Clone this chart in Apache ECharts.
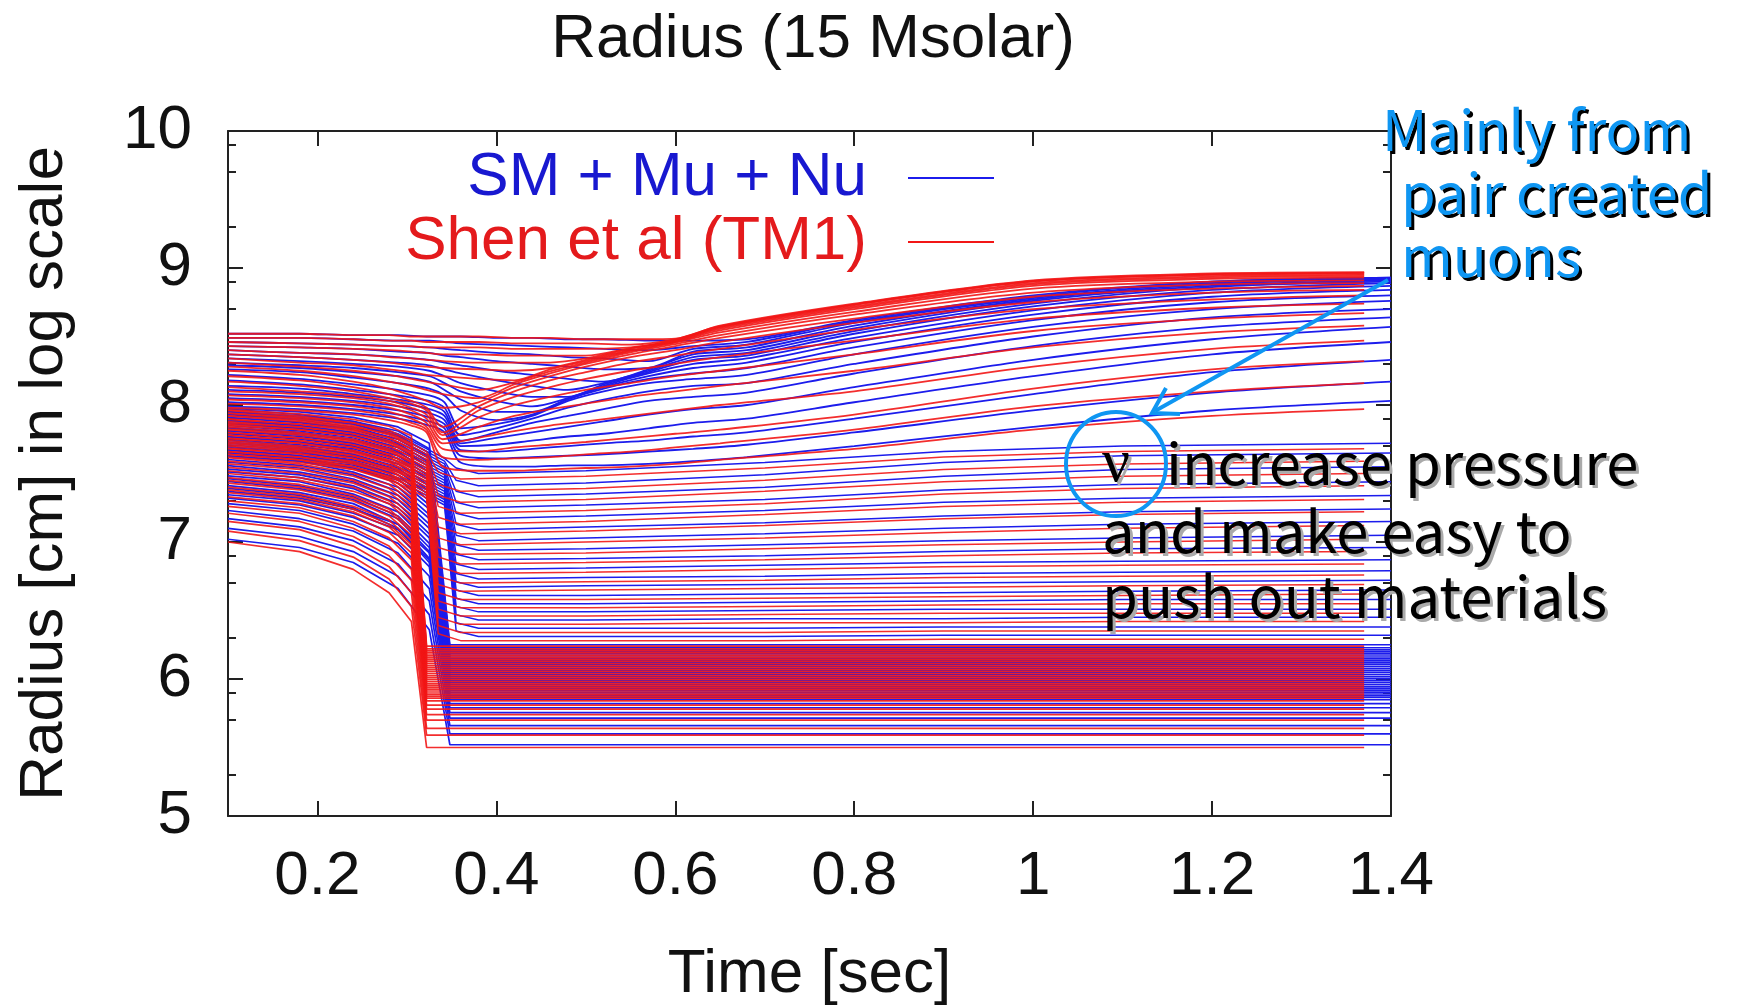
<!DOCTYPE html>
<html>
<head>
<meta charset="utf-8">
<title>Radius (15 Msolar)</title>
<script src="https://cdn.jsdelivr.net/npm/echarts@6/dist/echarts.min.js"></script>
<style>
  html, body { margin: 0; padding: 0; background: #fff; }
  #chart { width: 1741px; height: 1007px; }
</style>
</head>
<body>
<div id="chart"></div>
<script>
// axis ticks
const xTicks = [0.2, 0.4, 0.6, 0.8, 1, 1.2, 1.4];
const yMinorTicks = [5.3, 5.7, 5.9, 6.3, 6.7, 6.9, 7.3, 7.7, 7.9, 8.3, 8.7, 8.9, 9.3, 9.7, 9.9];

// ---- Shen et al (TM1): log10 radius of mass shells ----
// inner shells that fall into the core
const shenCoreT = [0.10, 0.18, 0.24, 0.28, 0.305, 0.322, 1.37];
const shenCore = [
  [7.00, 6.93, 6.80, 6.63, 6.42, 5.50, 5.50],
  [7.08, 7.01, 6.89, 6.73, 6.53, 5.59, 5.59],
  [7.15, 7.09, 6.97, 6.82, 6.63, 5.64, 5.64],
  [7.21, 7.15, 7.04, 6.90, 6.72, 5.70, 5.70],
  [7.26, 7.21, 7.10, 6.97, 6.80, 5.74, 5.74],
  [7.30, 7.25, 7.15, 7.03, 6.87, 5.78, 5.78],
  [7.33, 7.28, 7.19, 7.07, 6.92, 5.81, 5.81],
  [7.36, 7.31, 7.22, 7.11, 6.96, 5.84, 5.84],
  [7.38, 7.33, 7.24, 7.13, 6.98, 5.86, 5.86],
  [7.40, 7.35, 7.26, 7.16, 7.01, 5.875, 5.875],
  [7.43, 7.38, 7.30, 7.19, 7.05, 5.89, 5.89],
  [7.45, 7.40, 7.32, 7.22, 7.08, 5.905, 5.905],
  [7.47, 7.42, 7.34, 7.24, 7.10, 5.92, 5.92],
  [7.50, 7.45, 7.37, 7.28, 7.14, 5.935, 5.935],
  [7.52, 7.47, 7.40, 7.30, 7.17, 5.95, 5.95],
  [7.545, 7.50, 7.43, 7.33, 7.20, 5.965, 5.965],
  [7.57, 7.53, 7.45, 7.36, 7.24, 5.98, 5.98],
  [7.59, 7.55, 7.48, 7.39, 7.27, 5.995, 5.995],
  [7.615, 7.57, 7.50, 7.42, 7.30, 6.01, 6.01],
  [7.64, 7.60, 7.53, 7.45, 7.33, 6.025, 6.025],
  [7.66, 7.62, 7.55, 7.47, 7.36, 6.04, 6.04],
  [7.685, 7.645, 7.58, 7.50, 7.39, 6.055, 6.055],
  [7.71, 7.67, 7.61, 7.53, 7.43, 6.07, 6.07],
  [7.73, 7.69, 7.63, 7.56, 7.46, 6.085, 6.085],
  [7.755, 7.72, 7.66, 7.59, 7.49, 6.10, 6.10],
  [7.78, 7.74, 7.69, 7.62, 7.52, 6.115, 6.115],
  [7.80, 7.76, 7.71, 7.64, 7.55, 6.13, 6.13],
  [7.825, 7.79, 7.74, 7.67, 7.585, 6.145, 6.145],
  [7.85, 7.82, 7.77, 7.70, 7.62, 6.16, 6.16],
  [7.87, 7.84, 7.79, 7.73, 7.65, 6.175, 6.175],
  [7.895, 7.86, 7.82, 7.76, 7.68, 6.19, 6.19],
  [7.92, 7.89, 7.84, 7.79, 7.71, 6.205, 6.205],
  [7.94, 7.91, 7.87, 7.815, 7.74, 6.22, 6.22],
  [7.965, 7.935, 7.895, 7.845, 7.775, 6.24, 6.24]
];
// shells that stall after the bounce
const shenStalledT = [0.10, 0.18, 0.24, 0.28, 0.305, 0.322, 0.335, 0.36, 0.50, 0.70, 0.90, 1.10, 1.37];
const shenStalled = [
  [7.62, 7.58, 7.53, 7.46, 7.38, 7.32, 6.33, 6.28, 6.28, 6.28, 6.29, 6.29, 6.29],
  [7.64, 7.60, 7.55, 7.48, 7.40, 7.34, 6.39, 6.34, 6.34, 6.34, 6.35, 6.35, 6.35],
  [7.66, 7.62, 7.57, 7.50, 7.42, 7.36, 6.45, 6.40, 6.40, 6.41, 6.41, 6.42, 6.42],
  [7.68, 7.64, 7.59, 7.52, 7.44, 7.38, 6.51, 6.46, 6.46, 6.47, 6.48, 6.48, 6.48],
  [7.70, 7.66, 7.61, 7.54, 7.46, 7.40, 6.57, 6.52, 6.52, 6.53, 6.54, 6.55, 6.55],
  [7.72, 7.68, 7.63, 7.56, 7.48, 7.42, 6.63, 6.58, 6.58, 6.59, 6.60, 6.61, 6.62],
  [7.74, 7.70, 7.65, 7.58, 7.50, 7.44, 6.69, 6.64, 6.65, 6.66, 6.67, 6.68, 6.69],
  [7.76, 7.72, 7.67, 7.60, 7.52, 7.46, 6.75, 6.70, 6.71, 6.72, 6.74, 6.75, 6.76],
  [7.78, 7.74, 7.69, 7.62, 7.54, 7.48, 6.82, 6.77, 6.78, 6.80, 6.82, 6.83, 6.84],
  [7.80, 7.76, 7.71, 7.64, 7.56, 7.50, 6.89, 6.84, 6.85, 6.87, 6.90, 6.92, 6.93],
  [7.82, 7.78, 7.73, 7.66, 7.58, 7.52, 6.96, 6.91, 6.92, 6.95, 6.98, 7.00, 7.02],
  [7.84, 7.80, 7.75, 7.68, 7.60, 7.54, 7.03, 6.98, 7.00, 7.03, 7.07, 7.10, 7.12],
  [7.86, 7.82, 7.77, 7.70, 7.62, 7.56, 7.11, 7.06, 7.08, 7.12, 7.17, 7.20, 7.22],
  [7.88, 7.84, 7.79, 7.72, 7.64, 7.58, 7.18, 7.13, 7.15, 7.20, 7.26, 7.29, 7.31],
  [7.90, 7.86, 7.81, 7.74, 7.66, 7.60, 7.26, 7.21, 7.23, 7.28, 7.35, 7.39, 7.41],
  [7.92, 7.88, 7.83, 7.76, 7.68, 7.62, 7.34, 7.29, 7.31, 7.37, 7.44, 7.48, 7.50],
  [7.94, 7.90, 7.85, 7.78, 7.70, 7.64, 7.42, 7.37, 7.39, 7.45, 7.53, 7.57, 7.59],
  [7.96, 7.92, 7.87, 7.80, 7.72, 7.66, 7.51, 7.46, 7.48, 7.54, 7.62, 7.66, 7.68]
];
// outer shells pushed out by the shock
const shenRiseT = [0.10, 0.18, 0.24, 0.28, 0.305, 0.322, 0.34, 0.38, 0.42, 0.46, 0.50, 0.55, 0.60, 0.65, 0.80, 1.00, 1.20, 1.37];
const shenRise = [
  [7.98, 7.96, 7.93, 7.89, 7.85, 7.80, 7.55, 7.52, 7.52, 7.53, 7.54, 7.55, 7.57, 7.60, 7.68, 7.82, 7.92, 7.97],
  [8.01, 7.99, 7.96, 7.92, 7.87, 7.82, 7.62, 7.60, 7.61, 7.62, 7.64, 7.66, 7.69, 7.72, 7.82, 7.99, 8.10, 8.16],
  [8.04, 8.02, 7.99, 7.95, 7.90, 7.84, 7.68, 7.66, 7.69, 7.71, 7.73, 7.76, 7.79, 7.82, 7.93, 8.12, 8.26, 8.32],
  [8.07, 8.05, 8.02, 7.98, 7.93, 7.87, 7.72, 7.76, 7.81, 7.85, 7.88, 7.92, 7.96, 8.00, 8.10, 8.28, 8.41, 8.47],
  [8.10, 8.08, 8.05, 8.01, 7.96, 7.90, 7.75, 7.84, 7.92, 7.97, 8.01, 8.06, 8.10, 8.14, 8.25, 8.42, 8.53, 8.58],
  [8.13, 8.10, 8.07, 8.03, 7.98, 7.93, 7.78, 7.91, 8.00, 8.06, 8.11, 8.16, 8.21, 8.25, 8.37, 8.54, 8.63, 8.67],
  [8.17, 8.14, 8.10, 8.05, 8.01, 7.96, 7.80, 7.96, 8.06, 8.13, 8.19, 8.25, 8.30, 8.35, 8.47, 8.63, 8.71, 8.74],
  [8.21, 8.18, 8.13, 8.08, 8.03, 7.98, 7.84, 7.99, 8.10, 8.18, 8.24, 8.31, 8.36, 8.41, 8.55, 8.70, 8.77, 8.80],
  [8.25, 8.22, 8.17, 8.12, 8.07, 8.03, 7.98, 8.02, 8.13, 8.21, 8.28, 8.35, 8.40, 8.46, 8.60, 8.75, 8.82, 8.84],
  [8.28, 8.25, 8.21, 8.17, 8.14, 8.11, 8.08, 8.05, 8.15, 8.23, 8.30, 8.37, 8.43, 8.49, 8.63, 8.79, 8.85, 8.87],
  [8.31, 8.28, 8.25, 8.22, 8.19, 8.17, 8.15, 8.11, 8.165, 8.245, 8.31, 8.385, 8.445, 8.51, 8.66, 8.82, 8.88, 8.89],
  [8.34, 8.31, 8.29, 8.26, 8.24, 8.22, 8.21, 8.19, 8.18, 8.26, 8.32, 8.395, 8.455, 8.53, 8.68, 8.85, 8.90, 8.91],
  [8.37, 8.35, 8.33, 8.31, 8.29, 8.28, 8.27, 8.26, 8.25, 8.27, 8.33, 8.40, 8.46, 8.545, 8.70, 8.87, 8.92, 8.93],
  [8.40, 8.38, 8.37, 8.35, 8.34, 8.33, 8.32, 8.31, 8.31, 8.31, 8.34, 8.41, 8.465, 8.555, 8.71, 8.88, 8.93, 8.94],
  [8.43, 8.42, 8.41, 8.40, 8.39, 8.38, 8.37, 8.37, 8.36, 8.36, 8.36, 8.415, 8.47, 8.565, 8.72, 8.89, 8.94, 8.95],
  [8.46, 8.45, 8.44, 8.43, 8.43, 8.42, 8.42, 8.42, 8.41, 8.41, 8.41, 8.42, 8.475, 8.57, 8.73, 8.90, 8.95, 8.96],
  [8.49, 8.49, 8.48, 8.47, 8.47, 8.46, 8.46, 8.46, 8.45, 8.45, 8.45, 8.44, 8.48, 8.575, 8.735, 8.905, 8.955, 8.965],
  [8.52, 8.52, 8.51, 8.51, 8.50, 8.50, 8.50, 8.50, 8.49, 8.49, 8.48, 8.48, 8.485, 8.58, 8.74, 8.91, 8.96, 8.97]
];

// ---- SM + Mu + Nu ----
const smCoreT = [0.10, 0.18, 0.24, 0.29, 0.325, 0.348, 1.40];
const smCore = [
  [7.02, 6.96, 6.85, 6.66, 6.36, 5.52, 5.52],
  [7.10, 7.04, 6.93, 6.75, 6.47, 5.60, 5.60],
  [7.17, 7.11, 7.01, 6.84, 6.57, 5.66, 5.66],
  [7.23, 7.17, 7.08, 6.92, 6.66, 5.715, 5.715],
  [7.28, 7.23, 7.13, 6.99, 6.75, 5.755, 5.755],
  [7.32, 7.27, 7.18, 7.05, 6.82, 5.79, 5.79],
  [7.345, 7.30, 7.21, 7.09, 6.87, 5.82, 5.82],
  [7.37, 7.32, 7.24, 7.13, 6.92, 5.85, 5.85],
  [7.392, 7.34, 7.25, 7.10, 6.85, 5.868, 5.868],
  [7.412, 7.36, 7.28, 7.13, 6.88, 5.883, 5.883],
  [7.442, 7.39, 7.31, 7.17, 6.93, 5.898, 5.898],
  [7.462, 7.41, 7.33, 7.19, 6.96, 5.913, 5.913],
  [7.482, 7.44, 7.35, 7.22, 6.99, 5.928, 5.928],
  [7.512, 7.47, 7.39, 7.25, 7.03, 5.943, 5.943],
  [7.532, 7.49, 7.41, 7.28, 7.06, 5.958, 5.958],
  [7.557, 7.51, 7.44, 7.31, 7.10, 5.973, 5.973],
  [7.582, 7.54, 7.46, 7.34, 7.13, 5.988, 5.988],
  [7.602, 7.56, 7.49, 7.37, 7.17, 6.003, 6.003],
  [7.627, 7.59, 7.51, 7.40, 7.20, 6.018, 6.018],
  [7.652, 7.61, 7.54, 7.43, 7.24, 6.033, 6.033],
  [7.672, 7.63, 7.57, 7.46, 7.27, 6.048, 6.048],
  [7.697, 7.66, 7.59, 7.49, 7.30, 6.063, 6.063],
  [7.722, 7.68, 7.62, 7.52, 7.34, 6.078, 6.078],
  [7.742, 7.70, 7.64, 7.54, 7.37, 6.093, 6.093],
  [7.767, 7.73, 7.67, 7.57, 7.41, 6.108, 6.108],
  [7.792, 7.76, 7.70, 7.61, 7.45, 6.123, 6.123],
  [7.812, 7.78, 7.72, 7.63, 7.48, 6.138, 6.138],
  [7.837, 7.80, 7.75, 7.66, 7.51, 6.153, 6.153],
  [7.862, 7.83, 7.78, 7.69, 7.55, 6.168, 6.168],
  [7.882, 7.85, 7.80, 7.72, 7.58, 6.183, 6.183],
  [7.907, 7.875, 7.83, 7.75, 7.62, 6.198, 6.198],
  [7.932, 7.90, 7.86, 7.78, 7.65, 6.213, 6.213],
  [7.952, 7.92, 7.88, 7.81, 7.68, 6.228, 6.228],
  [7.977, 7.95, 7.91, 7.84, 7.72, 6.25, 6.25]
];
const smStalledT = [0.10, 0.18, 0.24, 0.29, 0.325, 0.342, 0.355, 0.38, 0.50, 0.70, 0.90, 1.10, 1.40];
const smStalled = [
  [7.63, 7.59, 7.54, 7.45, 7.33, 7.27, 6.35, 6.31, 6.31, 6.31, 6.32, 6.32, 6.32],
  [7.65, 7.61, 7.56, 7.47, 7.35, 7.29, 6.41, 6.37, 6.37, 6.37, 6.38, 6.38, 6.38],
  [7.67, 7.63, 7.58, 7.49, 7.37, 7.31, 6.47, 6.43, 6.43, 6.44, 6.44, 6.45, 6.45],
  [7.69, 7.65, 7.60, 7.51, 7.39, 7.33, 6.53, 6.49, 6.49, 6.50, 6.51, 6.51, 6.51],
  [7.71, 7.67, 7.62, 7.53, 7.41, 7.35, 6.59, 6.55, 6.55, 6.56, 6.57, 6.58, 6.58],
  [7.73, 7.69, 7.64, 7.55, 7.43, 7.37, 6.65, 6.61, 6.61, 6.62, 6.63, 6.64, 6.65],
  [7.75, 7.71, 7.66, 7.57, 7.45, 7.39, 6.71, 6.67, 6.68, 6.69, 6.70, 6.71, 6.72],
  [7.77, 7.73, 7.68, 7.59, 7.47, 7.41, 6.77, 6.73, 6.74, 6.75, 6.77, 6.78, 6.79],
  [7.79, 7.75, 7.70, 7.61, 7.49, 7.43, 6.84, 6.80, 6.81, 6.83, 6.85, 6.86, 6.87],
  [7.81, 7.77, 7.72, 7.63, 7.51, 7.45, 6.91, 6.87, 6.88, 6.90, 6.93, 6.95, 6.96],
  [7.83, 7.79, 7.74, 7.65, 7.53, 7.47, 6.98, 6.94, 6.95, 6.98, 7.01, 7.03, 7.05],
  [7.85, 7.81, 7.76, 7.67, 7.55, 7.49, 7.05, 7.01, 7.03, 7.06, 7.10, 7.13, 7.15],
  [7.87, 7.83, 7.78, 7.69, 7.57, 7.51, 7.13, 7.09, 7.11, 7.14, 7.19, 7.22, 7.24],
  [7.89, 7.85, 7.80, 7.71, 7.59, 7.53, 7.21, 7.17, 7.19, 7.23, 7.29, 7.32, 7.34],
  [7.91, 7.87, 7.82, 7.73, 7.61, 7.55, 7.29, 7.25, 7.27, 7.31, 7.38, 7.42, 7.44],
  [7.93, 7.89, 7.84, 7.75, 7.63, 7.57, 7.37, 7.33, 7.35, 7.40, 7.48, 7.53, 7.55],
  [7.95, 7.91, 7.86, 7.77, 7.65, 7.59, 7.45, 7.41, 7.43, 7.49, 7.58, 7.63, 7.65],
  [7.97, 7.93, 7.88, 7.79, 7.67, 7.61, 7.54, 7.50, 7.52, 7.58, 7.66, 7.70, 7.72]
];
const smRiseT = [0.10, 0.18, 0.24, 0.29, 0.325, 0.342, 0.36, 0.40, 0.44, 0.48, 0.52, 0.57, 0.62, 0.68, 0.80, 1.00, 1.20, 1.40];
const smRise = [
  [7.99, 7.97, 7.94, 7.90, 7.85, 7.80, 7.58, 7.55, 7.55, 7.56, 7.56, 7.57, 7.59, 7.62, 7.70, 7.84, 7.96, 8.03],
  [8.02, 8.00, 7.97, 7.93, 7.88, 7.83, 7.63, 7.61, 7.62, 7.63, 7.64, 7.66, 7.68, 7.71, 7.80, 7.96, 8.09, 8.17],
  [8.05, 8.03, 8.00, 7.96, 7.91, 7.86, 7.67, 7.66, 7.68, 7.70, 7.72, 7.74, 7.77, 7.80, 7.90, 8.08, 8.24, 8.33],
  [8.08, 8.06, 8.03, 7.99, 7.94, 7.89, 7.70, 7.71, 7.74, 7.77, 7.79, 7.83, 7.87, 7.90, 8.02, 8.21, 8.37, 8.46],
  [8.11, 8.09, 8.06, 8.02, 7.97, 7.92, 7.72, 7.76, 7.80, 7.84, 7.88, 7.93, 7.97, 8.00, 8.13, 8.33, 8.48, 8.57],
  [8.14, 8.12, 8.08, 8.04, 8.00, 7.95, 7.74, 7.80, 7.87, 7.92, 7.97, 8.03, 8.06, 8.09, 8.23, 8.43, 8.57, 8.64],
  [8.18, 8.15, 8.11, 8.07, 8.03, 7.98, 7.78, 7.83, 7.90, 7.98, 8.04, 8.10, 8.14, 8.16, 8.30, 8.50, 8.64, 8.70],
  [8.22, 8.19, 8.15, 8.11, 8.07, 8.02, 7.83, 7.86, 7.92, 8.03, 8.10, 8.16, 8.19, 8.22, 8.37, 8.57, 8.70, 8.76],
  [8.26, 8.24, 8.20, 8.16, 8.12, 8.07, 7.96, 7.89, 7.93, 8.04, 8.12, 8.19, 8.23, 8.27, 8.42, 8.62, 8.75, 8.80],
  [8.29, 8.27, 8.24, 8.21, 8.17, 8.11, 8.04, 7.95, 7.95, 8.045, 8.13, 8.21, 8.27, 8.31, 8.46, 8.66, 8.79, 8.84],
  [8.31, 8.29, 8.27, 8.24, 8.21, 8.16, 8.10, 8.03, 7.99, 8.05, 8.14, 8.23, 8.30, 8.34, 8.49, 8.69, 8.82, 8.87],
  [8.34, 8.32, 8.30, 8.28, 8.25, 8.21, 8.16, 8.10, 8.06, 8.06, 8.15, 8.24, 8.33, 8.36, 8.52, 8.72, 8.84, 8.89],
  [8.37, 8.35, 8.33, 8.31, 8.29, 8.26, 8.23, 8.18, 8.14, 8.11, 8.16, 8.25, 8.35, 8.38, 8.54, 8.74, 8.86, 8.90],
  [8.40, 8.38, 8.37, 8.35, 8.33, 8.31, 8.29, 8.25, 8.22, 8.19, 8.17, 8.26, 8.37, 8.40, 8.56, 8.76, 8.87, 8.91],
  [8.43, 8.42, 8.41, 8.39, 8.38, 8.36, 8.35, 8.32, 8.30, 8.28, 8.26, 8.27, 8.39, 8.42, 8.58, 8.77, 8.88, 8.92],
  [8.46, 8.45, 8.44, 8.43, 8.42, 8.41, 8.40, 8.38, 8.37, 8.35, 8.34, 8.32, 8.41, 8.44, 8.60, 8.78, 8.89, 8.92],
  [8.49, 8.49, 8.48, 8.47, 8.47, 8.46, 8.45, 8.44, 8.43, 8.42, 8.41, 8.40, 8.43, 8.46, 8.61, 8.79, 8.90, 8.93],
  [8.52, 8.52, 8.51, 8.51, 8.50, 8.50, 8.50, 8.49, 8.49, 8.48, 8.48, 8.47, 8.47, 8.48, 8.62, 8.80, 8.90, 8.93]
];

const SM_NAME = 'SM + Mu + Nu';
const SHEN_NAME = 'Shen et al (TM1)';
const BLUE = '#1c1cec';
const RED = '#f21616';
const FONT = '"Liberation Sans", Arial, sans-serif';
const JP_FONT = '"Noto Sans CJK JP", sans-serif';
const NOTE_BLUE = '#0f96f2';

// one line series per mass shell
function shells(times, rows, name, color, opacity, width, smooth) {
  return rows.map(row => ({
    type: 'line',
    name: name,
    data: row.map((r, i) => [times[i], r]),
    symbol: 'none',
    showSymbol: false,
    smooth: smooth,
    silent: true,
    animation: false,
    lineStyle: { color: color, width: width, opacity: opacity },
    itemStyle: { color: color }
  }));
}

const series = [].concat(
  shells(smCoreT, smCore, SM_NAME, BLUE, 1, 1.7, false),
  shells(smStalledT, smStalled, SM_NAME, BLUE, 1, 1.5, false),
  shells(smRiseT, smRise, SM_NAME, BLUE, 1, 1.8, 0.3),
  shells(shenCoreT, shenCore, SHEN_NAME, RED, 0.9, 1.7, false),
  shells(shenStalledT, shenStalled, SHEN_NAME, RED, 0.9, 1.5, false),
  shells(shenRiseT, shenRise, SHEN_NAME, RED, 0.9, 1.8, 0.3)
);

// text with a hard drop shadow, drawn as two copies
function shadowText(x, y, text, font, fill, shade) {
  return [
    { type: 'text', x: x + 3, y: y + 3, z: 100, silent: true,
      style: { text: text, font: font, fill: shade, verticalAlign: 'middle', align: 'left' } },
    { type: 'text', x: x, y: y, z: 101, silent: true,
      style: { text: text, font: font, fill: fill, verticalAlign: 'middle', align: 'left' } }
  ];
}

const axisLineStyle = { color: '#222', width: 2 };

const option = {
  backgroundColor: '#fff',
  animation: false,
  title: {
    text: 'Radius (15 Msolar)',
    left: 808,
    top: 4,
    textAlign: 'center',
    textStyle: { fontSize: 62, fontWeight: 'normal', fontFamily: FONT, color: '#111' }
  },
  legend: {
    data: [
      { name: SM_NAME, textStyle: { color: '#1818d0' } },
      { name: SHEN_NAME, textStyle: { color: '#e41a1c' } }
    ],
    orient: 'vertical',
    align: 'right',
    right: 742,
    top: 142,
    icon: 'rect',
    itemWidth: 86,
    itemHeight: 2,
    itemGap: 2,
    selectedMode: false,
    textStyle: { fontSize: 62, fontFamily: FONT, padding: [0, 36, 0, 0] }
  },
  grid: { left: 228, right: 350, top: 131, bottom: 191, containLabel: false, outerBoundsMode: 'none' },
  xAxis: [
    {
      type: 'value', min: 0.1, max: 1.4, position: 'bottom',
      name: 'Time [sec]', nameLocation: 'middle', nameGap: 128,
      nameTextStyle: { fontSize: 62, fontFamily: FONT, color: '#111' },
      axisLine: { show: true, lineStyle: axisLineStyle },
      axisTick: { show: true, inside: true, length: 15, customValues: xTicks, lineStyle: axisLineStyle },
      axisLabel: { customValues: xTicks, margin: 30, fontSize: 62, fontFamily: FONT, color: '#111' },
      splitLine: { show: false }
    },
    {
      type: 'value', min: 0.1, max: 1.4, position: 'top',
      axisLine: { show: true, lineStyle: axisLineStyle },
      axisTick: { show: true, inside: true, length: 15, customValues: xTicks, lineStyle: axisLineStyle },
      axisLabel: { show: false },
      splitLine: { show: false }
    }
  ],
  yAxis: [
    {
      type: 'value', min: 5, max: 10, interval: 1, position: 'left',
      name: 'Radius [cm] in log scale', nameLocation: 'middle', nameGap: 152, nameRotate: 90,
      nameTextStyle: { fontSize: 62, fontFamily: FONT, color: '#111' },
      axisLine: { show: true, lineStyle: axisLineStyle },
      axisTick: { show: true, inside: true, length: 15, lineStyle: axisLineStyle },
      axisLabel: { margin: 36, fontSize: 62, fontFamily: FONT, color: '#111' },
      splitLine: { show: false }
    },
    {
      type: 'value', min: 5, max: 10, interval: 1, position: 'right',
      axisLine: { show: true, lineStyle: axisLineStyle },
      axisTick: { show: true, inside: true, length: 15, lineStyle: axisLineStyle },
      axisLabel: { show: false },
      splitLine: { show: false }
    },
    {
      type: 'value', min: 5, max: 10, position: 'left',
      axisLine: { show: false },
      axisTick: { show: true, inside: true, length: 8, customValues: yMinorTicks, lineStyle: axisLineStyle },
      axisLabel: { show: false },
      splitLine: { show: false }
    },
    {
      type: 'value', min: 5, max: 10, position: 'right',
      axisLine: { show: false },
      axisTick: { show: true, inside: true, length: 8, customValues: yMinorTicks, lineStyle: axisLineStyle },
      axisLabel: { show: false },
      splitLine: { show: false }
    }
  ],
  series: series,
  graphic: [].concat(
    shadowText(1382, 130, 'Mainly from', '56px ' + JP_FONT, NOTE_BLUE, '#000'),
    shadowText(1401, 193, 'pair created', '56px ' + JP_FONT, NOTE_BLUE, '#000'),
    shadowText(1401, 256, 'muons', '56px ' + JP_FONT, NOTE_BLUE, '#000'),
    shadowText(1102, 465, 'ν', '62px "Liberation Serif", serif', '#000', '#aaa'),
    shadowText(1166, 463, 'increase pressure', '58px ' + JP_FONT, '#000', '#aaa'),
    shadowText(1102, 531, 'and make easy to', '58px ' + JP_FONT, '#000', '#aaa'),
    shadowText(1102, 596, 'push out materials', '58px ' + JP_FONT, '#000', '#aaa'),
    [
      { type: 'ellipse', z: 102, silent: true,
        shape: { cx: 1116, cy: 464, rx: 50, ry: 52 },
        style: { fill: 'none', stroke: NOTE_BLUE, lineWidth: 4 } },
      { type: 'line', z: 102, silent: true,
        shape: { x1: 1388, y1: 280, x2: 1155, y2: 411 },
        style: { stroke: NOTE_BLUE, lineWidth: 4 } },
      { type: 'polyline', z: 102, silent: true,
        shape: { points: [[1166, 388], [1152, 413], [1180, 414]] },
        style: { fill: 'none', stroke: NOTE_BLUE, lineWidth: 4 } }
    ]
  )
};

const chart = echarts.init(document.getElementById('chart'));
chart.setOption(option);
window.addEventListener('resize', () => chart.resize());
</script>
</body>
</html>
